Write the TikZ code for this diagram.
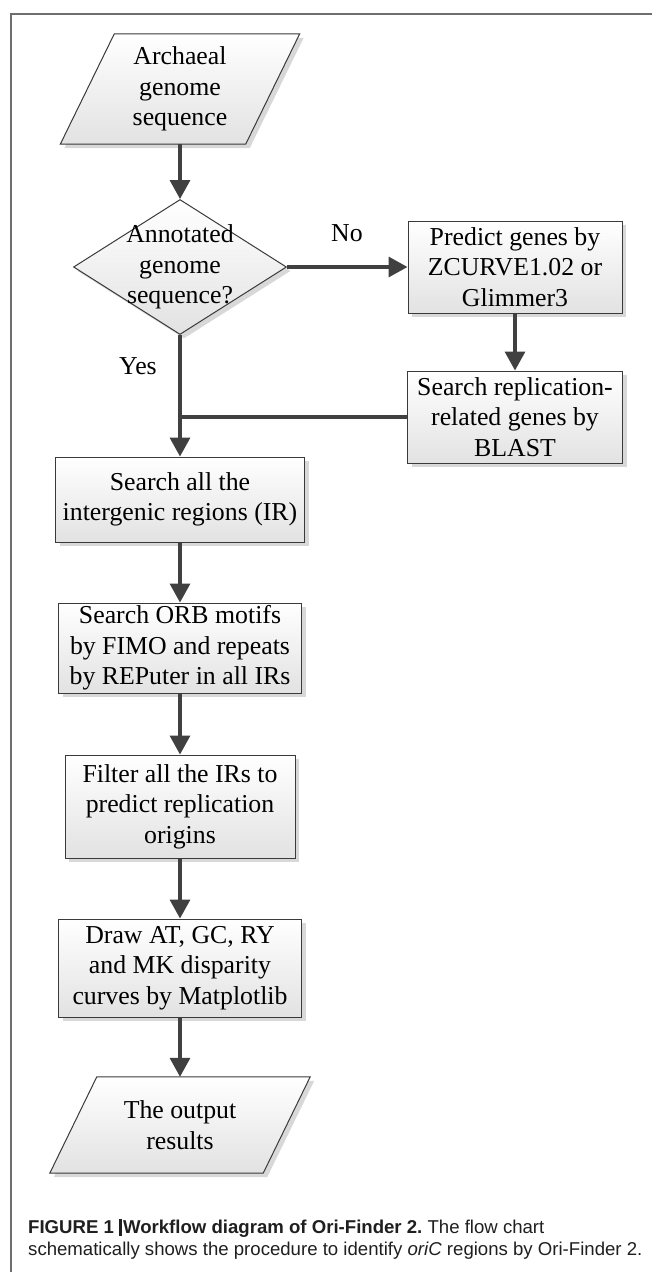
\documentclass[tikz,border=0pt]{standalone}
\usepackage{fontspec}
\setmainfont{Liberation Serif}
\newfontfamily\capfont{Liberation Sans}
\usetikzlibrary{arrows.meta,shapes.geometric,shadows,calc}
\definecolor{linec}{HTML}{404040}
\definecolor{boxline}{HTML}{3A3A3A}
\definecolor{fillbot}{HTML}{E2E2E2}
\definecolor{shadc}{HTML}{D8D8D8}
\definecolor{framec}{HTML}{6E6E6E}
\begin{document}
\begin{tikzpicture}[x=1pt,y=-1pt,
  every node/.style={font=\fontsize{25.8}{30.5}\selectfont, text=black},
  shadowed/.style={drop shadow={opacity=1, fill=shadc, shadow xshift=4pt, shadow yshift=-4pt}},
  procbox/.style={rectangle, draw=boxline, line width=1pt, top color=white, bottom color=fillbot, shadowed, align=center, inner sep=1pt},
  decbox/.style={shape=diamond, draw=boxline, line width=1pt, top color=white, bottom color=fillbot, shadowed, inner sep=0pt, minimum width=213pt, minimum height=135pt},
  iobox/.style={rectangle, align=center, inner sep=0pt},
  iofill/.style={draw=boxline, line width=1pt, top color=white, bottom color=fillbot, shadowed},
  flow/.style={draw=linec, line width=3.4pt, -{Triangle[width=20pt,length=19pt]}},
  link/.style={draw=linec, line width=3.4pt},
  lbl/.style={inner sep=0pt, anchor=base},
  captxt/.style={font=\capfont\fontsize{18.6}{22}\selectfont, inner sep=0pt, anchor=base west, text=black!88}
]
\useasboundingbox (0,0) rectangle (652,1272);
\fill[white] (0,0) rectangle (652,1272);
\draw[framec, line width=1.4pt] (11,1272) -- (11,14) -- (652,14);

% input parallelogram
\node[iobox, minimum width=185pt, minimum height=110pt] (in) at (180,89) {};
\path[iofill] ($(in.north west)+(27,0)$) -- ($(in.north east)+(27,0)$) -- ($(in.south east)+(-27,0)$) -- ($(in.south west)+(-27,0)$) -- cycle;
\node[iobox] (intxt) at (in.center) {Archaeal\\genome\\sequence};

% decision
\node[decbox] (dec) at (180,267) {};
\node[iobox] (dectxt) at (dec.center) {Annotated\\genome\\sequence?};

\node[procbox, minimum width=214pt, minimum height=92pt] (pred) at (515,267) {Predict genes by\\ZCURVE1.02 or\\Glimmer3};
\node[procbox, minimum width=215pt, minimum height=92pt] (blast) at (515,417) {Search replication-\\related genes by\\BLAST};
\node[procbox, minimum width=249pt, minimum height=85pt] (sall) at (180,499.5) {Search all the\\intergenic regions (IR)};
\node[procbox, minimum width=243pt, minimum height=90pt] (orb) at (180,648) {Search ORB motifs\\by FIMO and repeats\\by REPuter in all IRs};
\node[procbox, minimum width=230pt, minimum height=103pt] (filt) at (180,806.5) {Filter all the IRs to\\predict replication\\origins};
\node[procbox, minimum width=243pt, minimum height=98pt] (drw) at (180,968) {Draw AT, GC, RY\\and MK disparity\\curves by Matplotlib};

% output parallelogram
\node[iobox, minimum width=213pt, minimum height=96pt] (out) at (180,1125) {};
\path[iofill] ($(out.north west)+(23.5,0)$) -- ($(out.north east)+(23.5,0)$) -- ($(out.south east)+(-23.5,0)$) -- ($(out.south west)+(-23.5,0)$) -- cycle;
\node[iobox] (outtxt) at (out.center) {The output\\results};

% labels
\node[lbl] (no) at (347,241) {No};
\node[lbl] (yes) at (138,374) {Yes};

% connectors
\draw[flow] (in.south) -- (dec.north);
\draw[flow] (dec.east) -- (pred.west);
\draw[flow] (pred.south) -- (blast.north);
\draw[link] (blast.west) -- (blast.west -| dec.south);
\draw[flow] (dec.south) -- (sall.north);
\draw[flow] (sall.south) -- (orb.north);
\draw[flow] (orb.south) -- (filt.north);
\draw[flow] (filt.south) -- (drw.north);
\draw[flow] (drw.south) -- (out.north);

% caption
\node[captxt] (cap1) at (28,1233) {\bfseries FIGURE 1 \rule[-2.5pt]{2.4pt}{17pt}\hspace{1.5pt}Workflow diagram of Ori-Finder 2.\mdseries\ The flow chart};
\node[captxt] (cap2) at (28,1255) {schematically shows the procedure to identify \textit{oriC} regions by Ori-Finder 2.};
\end{tikzpicture}
\end{document}
